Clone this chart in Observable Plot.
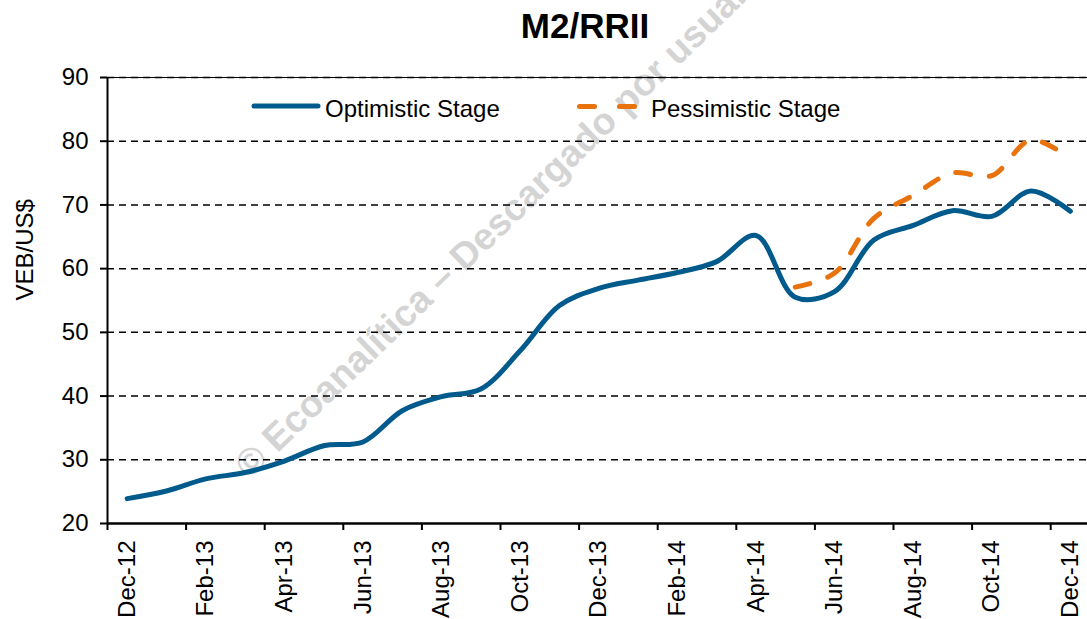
<!DOCTYPE html>
<html><head><meta charset="utf-8">
<script src="https://cdn.jsdelivr.net/npm/d3@7"></script>
<script src="https://cdn.jsdelivr.net/npm/@observablehq/plot@0.6"></script>
<style>
body{margin:0;background:#fff;font-family:"Liberation Sans",Arial,sans-serif;overflow:hidden}
#title{height:50px;line-height:52px;width:1087px;box-sizing:border-box;padding-left:83px;text-align:center;font-weight:bold;font-size:35px;color:#000;white-space:nowrap}
</style></head><body>
<div id="title">M2/RRII</div>
<div id="chart"></div>
<script>
const months = ["Dec-12","Jan-13","Feb-13","Mar-13","Apr-13","May-13","Jun-13","Jul-13","Aug-13","Sep-13","Oct-13","Nov-13","Dec-13","Jan-14","Feb-14","Mar-14","Apr-14","May-14","Jun-14","Jul-14","Aug-14","Sep-14","Oct-14","Nov-14","Dec-14"];
const optimistic = [23.9,25.1,27.0,28.0,29.8,32.2,32.8,37.7,39.9,41.1,47.1,54.2,56.9,58.2,59.4,61.1,65.2,55.5,56.4,64.5,66.8,69.1,68.2,72.2,69.0];
const pessimistic = [null,null,null,null,null,null,null,null,null,null,null,null,null,null,null,null,null,57.1,59.3,67.9,71.5,75.0,74.6,80.2,77.2];
const seriesNames = ["Optimistic Stage","Pessimistic Stage"];
const yTicks = [20,30,40,50,60,70,80,90];
const gridTicks = [30,40,50,60,70,80,90];
const yLabel = "VEB/US$";
const watermark = "© Ecoanalítica – Descargado por usuario";

const blue = "#005a8c", orange = "#e8720c";
const optData = months.map((m,i)=>({i, v: optimistic[i]}));
const pesData = months.map((m,i)=>({i, v: pessimistic[i]})).filter(d=>d.v!=null);
const labelIdx = months.map((m,i)=>i).filter(i=>i%2===0);
const boundaries = labelIdx.map(i=>i-0.5);

const svg = Plot.plot({
  width:1087, height:569, marginTop:27, marginBottom:96, marginLeft:107, marginRight:0,
  style:{fontFamily:'"Liberation Sans", Arial, sans-serif', fontSize:"24px", color:"#000", background:"transparent", overflow:"visible"},
  x:{type:"linear", domain:[-0.5, months.length-0.5], range:[107, 107+months.length*39.3]},
  y:{domain:[20,90]},
  marks:[
    Plot.ruleY(gridTicks, {stroke:"#000", strokeWidth:1.5, strokeDasharray:"7,5"}),
    Plot.ruleY([90], {stroke:"#000", strokeWidth:1}),
    Plot.line(optData, {x:"i", y:"v", curve:"catmull-rom", stroke:blue, strokeWidth:5, strokeLinecap:"round", strokeLinejoin:"round"}),
    Plot.line(pesData, {x:"i", y:"v", curve:"catmull-rom", stroke:orange, strokeWidth:5, strokeLinecap:"round", strokeDasharray:"15,19"}),
    Plot.ruleY([20], {stroke:"#000", strokeWidth:2.5}),
    Plot.ruleX([-0.5], {stroke:"#000", strokeWidth:2}),
    Plot.axisY({ticks:yTicks, tickSize:7, tickPadding:12, fontSize:24, strokeWidth:2, label:null}),
    Plot.axisX({ticks:labelIdx, tickFormat:i=>months[i], tickSize:0, tickRotate:-90, tickPadding:17, fontSize:24, label:null}),
    Plot.axisX({ticks:boundaries, tickFormat:()=>"", tickSize:7, strokeWidth:2, label:null}),
    Plot.text([yLabel], {text:d=>d, frameAnchor:"left", rotate:-90, dx:-75, lineAnchor:"bottom", fontSize:24})
  ]
});
document.getElementById("chart").appendChild(svg);

const s = d3.select(svg);
s.insert("text", ":first-child")
  .attr("transform","translate(250,430) rotate(-44)")
  .attr("text-anchor","start")
  .attr("font-family",'"Liberation Sans", Arial, sans-serif')
  .attr("font-weight","bold").attr("font-size",37.5).attr("fill","#d4d4d4")
  .text(watermark);

const g = s.append("g").attr("font-family",'"Liberation Sans", Arial, sans-serif').attr("font-size",24).attr("fill","#000").attr("text-anchor","start");
g.append("line").attr("x1",254).attr("x2",318).attr("y1",56).attr("y2",56)
  .attr("stroke",blue).attr("stroke-width",5).attr("stroke-linecap","round");
g.append("text").attr("x",325).attr("y",67).text(seriesNames[0]);
g.append("line").attr("x1",579.5).attr("x2",635.5).attr("y1",56.5).attr("y2",56.5)
  .attr("stroke",orange).attr("stroke-width",5).attr("stroke-linecap","round").attr("stroke-dasharray","15,25");
g.append("text").attr("x",651).attr("y",67).text(seriesNames[1]);
</script>
</body></html>
